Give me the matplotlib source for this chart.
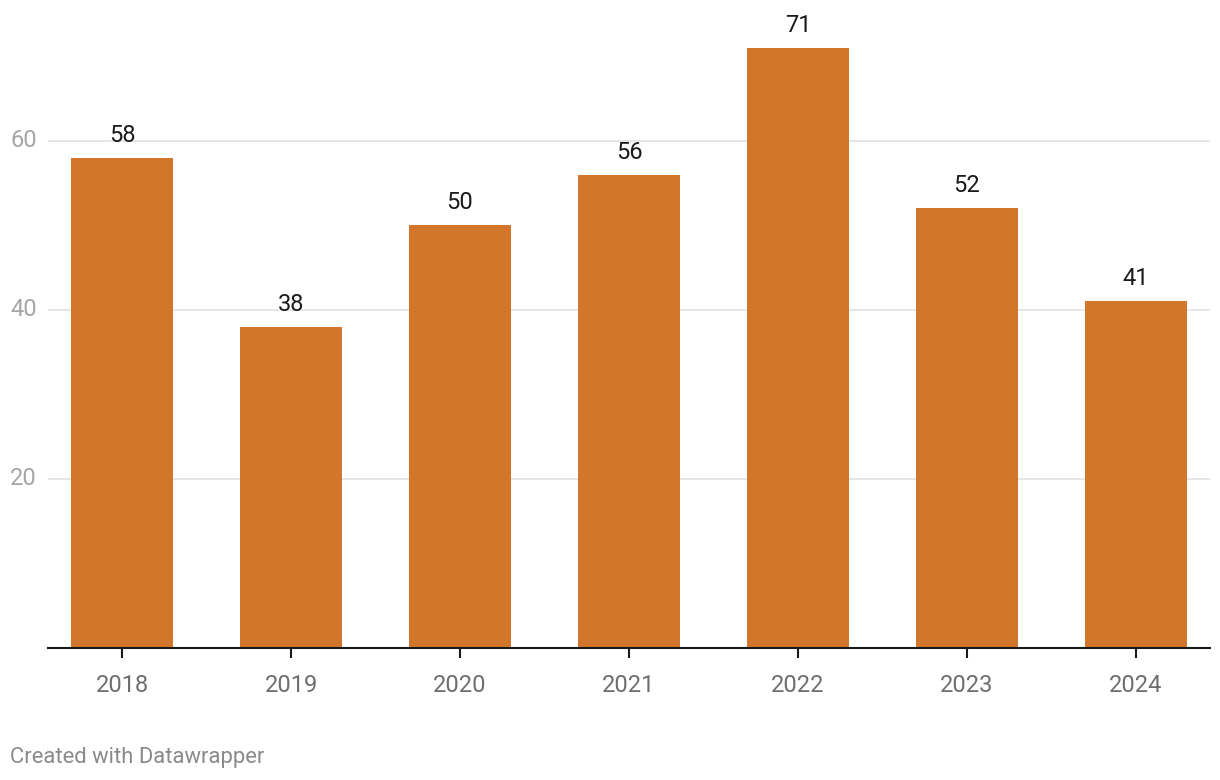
import numpy as np
import matplotlib.pyplot as plt

plt.rcParams['font.family'] = ['Roboto', 'DejaVu Sans']

years = ['2018', '2019', '2020', '2021', '2022', '2023', '2024']
values = [58, 38, 50, 56, 71, 52, 41]
yticks = [20, 40, 60]

fig = plt.figure(figsize=(12.2, 7.8), dpi=100)
# axes box in pixel terms: left 48, right 1210, bottom 648 (from top), top 20
ax = fig.add_axes([48 / 1220, 1 - 648 / 780, (1210 - 48) / 1220, (648 - 20) / 780])

x = np.arange(len(years))
ax.bar(x, values, width=0.6, color='#d2762b', zorder=2)

for xi, v in zip(x, values):
    ax.text(xi, v + 1.3, str(v), ha='center', va='bottom', fontsize=17,
            color='#1a1a1a')

ax.set_xlim(-0.438, 6.438)
ax.set_ylim(0, 74.3)

for t in yticks:
    ax.axhline(t, color='#e1e1e1', lw=1.2, zorder=1)
ax.set_yticks(yticks)
ax.set_yticklabels([str(t) for t in yticks], color='#a6a6a6', fontsize=17)
ax.tick_params(axis='y', length=0, pad=8)
for lbl in ax.get_yticklabels():
    lbl.set_verticalalignment('center')

ax.set_xticks(x)
ax.set_xticklabels(years, color='#6e6e6e', fontsize=17)
ax.tick_params(axis='x', length=7, width=1.5, color='#1a1a1a', pad=12)

for s in ['top', 'right', 'left']:
    ax.spines[s].set_visible(False)
ax.spines['bottom'].set_color('#1a1a1a')
ax.spines['bottom'].set_linewidth(1.5)
ax.spines['bottom'].set_zorder(3)

fig.text(10 / 1220, 1 - 757 / 780, 'Created with Datawrapper', fontsize=15.8,
         color='#8a8a8a', ha='left', va='center')

fig.savefig('out.png', dpi=100)
